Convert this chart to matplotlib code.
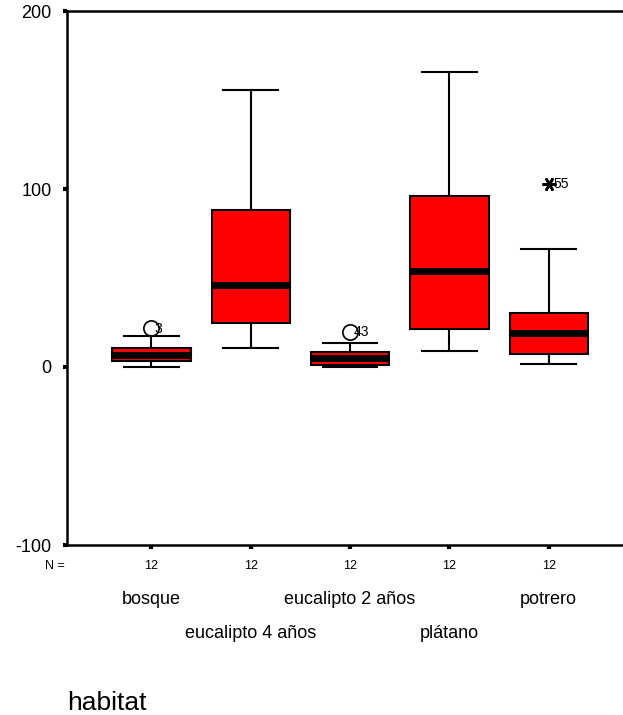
import matplotlib.pyplot as plt
import numpy as np

plt.rcParams['font.family'] = ['Liberation Sans', 'DejaVu Sans']

# datos
habitats = ['bosque', 'eucalipto 4 años', 'eucalipto 2 años', 'plátano', 'potrero']
n_casos = [12, 12, 12, 12, 12]
bigote_inf = [0.2, 10.5, 0.0, 9.0, 1.7]
q1 = [3.4, 24.8, 1.2, 21.3, 7.3]
mediana = [6.8, 46.0, 5.0, 54.0, 19.0]
q3 = [10.5, 88.0, 8.2, 96.0, 30.3]
bigote_sup = [17.2, 155.6, 13.6, 166.0, 66.3]
# atipicos (circulo) y extremos (asterisco)
atipicos = {1: (22.0, '3'), 3: (19.8, '43')}
extremos = {5: (102.8, '55')}

stats = []
for i in range(len(habitats)):
    stats.append({'med': mediana[i], 'q1': q1[i], 'q3': q3[i],
                  'whislo': bigote_inf[i], 'whishi': bigote_sup[i],
                  'fliers': []})

fig = plt.figure(figsize=(6.23, 7.15), dpi=100)
ax = fig.add_axes([67 / 623, 1 - 545 / 715, 1 - 67 / 623 + 0.01, (545 - 11) / 715])

pos = np.arange(1, len(habitats) + 1)
ax.bxp(stats, positions=pos, widths=0.79, patch_artist=True, showfliers=False,
       boxprops=dict(facecolor='#ff0000', edgecolor='black', linewidth=1.5),
       medianprops=dict(color='black', linewidth=5, solid_capstyle='butt'),
       whiskerprops=dict(color='black', linewidth=1.5),
       capprops=dict(color='black', linewidth=1.5), capwidths=0.55)

for p, (v, lab) in atipicos.items():
    ax.plot(p, v, marker='o', markersize=11, markerfacecolor='none',
            markeredgecolor='black', markeredgewidth=1.2, zorder=5)
    ax.annotate(lab, (p, v), xytext=(2.5, -0.5), textcoords='offset points',
                va='center', ha='left', fontsize=10)
for p, (v, lab) in extremos.items():
    ax.plot(p, v, marker=(6, 2, 90), markersize=10, color='black',
            markeredgewidth=1.8, zorder=5)
    ax.annotate(lab, (p, v), xytext=(3.5, 0), textcoords='offset points',
                va='center', ha='left', fontsize=10)

ax.set_xlim(0.15, 5.81)
ax.set_ylim(-100, 200)
ax.set_yticks([-100, 0, 100, 200])
ax.set_yticklabels(['-100', '0', '100', '200'], fontsize=13)
ax.set_xticks(pos)
ax.set_xticklabels([str(n) for n in n_casos], fontsize=9)
ax.tick_params(axis='both', direction='out', length=3, width=3)
ax.tick_params(axis='y', pad=8)
ax.tick_params(axis='x', pad=8)
for s in ax.spines.values():
    s.set_linewidth(1.8)

ax.annotate('N =', (0, 0), xycoords='axes fraction', xytext=(-9, -15),
            textcoords='offset points', ha='center', va='center', fontsize=9)

for i, nombre in enumerate(habitats):
    off = -39 if i % 2 == 0 else -64
    ax.annotate(nombre, (pos[i], 0), xycoords=('data', 'axes fraction'),
                xytext=(0, off), textcoords='offset points',
                ha='center', va='center', fontsize=13)

fig.text(67 / 623, 1 - 710 / 715, 'habitat', ha='left', va='baseline', fontsize=19)

fig.savefig('out.png', dpi=100)
